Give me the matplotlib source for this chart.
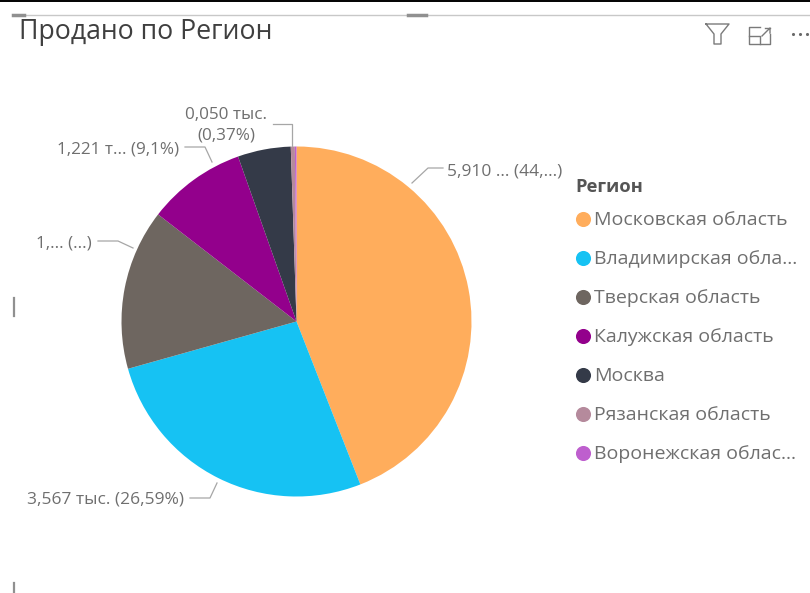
import matplotlib
matplotlib.use("Agg")
import matplotlib.pyplot as plt

regions = ["Московская область", "Владимирская обла...", "Тверская область", "Калужская область",
           "Москва", "Рязанская область", "Воронежская облас..."]
sold = [5.910, 3.567, 1.990, 1.221, 0.657, 0.050, 0.020]
colors = ["#FFAD5C", "#16C2F3", "#6E6660", "#93008C", "#343A48", "#B58A9C", "#BE5FCE"]
label_texts = ["5,910 ... (44,...)", "3,567 тыс. (26,59%)", "1,... (...)", "1,221 т... (9,1%)", "0,050 тыс.\n(0,37%)"]
W, H = 810, 593
TEXT = "#6F6F6F"
LINE = "#A6A6A6"
FONT = "Open Sans"


def Y(py):
    # pixel rows count from the top, the axes from the bottom
    return H - py


fig = plt.figure(figsize=(W / 100, H / 100), dpi=100)
ax = fig.add_axes([0, 0, 1, 1])
ax.set_xlim(0, W)
ax.set_ylim(0, H)
ax.axis("off")

# pie, clockwise from 12 o'clock
ax.pie(sold, colors=colors, startangle=90, counterclock=False, center=(296.5, Y(321.5)), radius=175,
       frame=False, wedgeprops=dict(linewidth=0))
ax.set_xlim(0, W)
ax.set_ylim(0, H)
ax.set_aspect("auto")

# data labels and their leader lines
leaders = [([412, 428, 443], [183, 168, 168]),
           ([217, 210, 190], [483, 498, 498]),
           ([133, 118, 98], [248, 241, 241]),
           ([212, 205, 185], [162, 147, 147]),
           ([292, 292, 273], [146, 124, 124])]
for xs, ys in leaders:
    ax.plot(xs, [Y(v) for v in ys], color=LINE, lw=0.9)
ax.text(447, Y(171), label_texts[0], fontsize=12.5, color=TEXT, family=FONT, va="center", ha="left")
ax.text(184, Y(499), label_texts[1], fontsize=12.5, color=TEXT, family=FONT, va="center", ha="right")
ax.text(92, Y(243), label_texts[2], fontsize=12.3, color=TEXT, family=FONT, va="center", ha="right")
ax.text(179, Y(150), label_texts[3], fontsize=12.3, color=TEXT, family=FONT, va="center", ha="right")
ax.text(226, Y(125.5), label_texts[4], fontsize=12.3, color=TEXT, family=FONT, va="center", ha="center",
        linespacing=1.4)

# title
ax.text(19, Y(32.5), "Продано по Регион", fontsize=19.2, color="#3F3F3F", family=FONT, va="center", ha="left")

# legend
ax.text(575, Y(187), "Регион", fontsize=13.2, color="#555555", family=FONT, weight="bold", va="center")
for i, (name, c) in enumerate(zip(regions, colors)):
    py = 219 + 39 * i
    ax.scatter([582.5], [Y(py)], s=118, color=c, linewidths=0)
    ax.text(594.5, Y(py + 1), name, fontsize=14, color=TEXT, family=FONT, va="center", ha="left")

# window frame
ax.plot([0, W], [Y(1), Y(1)], color="#000000", lw=1.4)
ax.plot([14, W], [Y(15), Y(15)], color="#C8C8C8", lw=1.0)
ax.plot([13, 24], [Y(15), Y(15)], color="#909090", lw=2.5)
ax.plot([408, 426], [Y(15), Y(15)], color="#909090", lw=2.5)
ax.plot([14, 14], [Y(298), Y(316)], color="#909090", lw=1.6)
ax.plot([14, 14], [Y(583), Y(593)], color="#909090", lw=1.6)

# header icons: filter, focus mode, more options
ax.plot([706, 729, 721, 721, 714, 714, 706], [Y(24), Y(24), Y(34), Y(44), Y(44), Y(34), Y(24)],
        color="#7A7A7A", lw=1.0)
ax.plot([760, 749, 749, 770, 770], [Y(27), Y(27), Y(44), Y(44), Y(34)], color="#7A7A7A", lw=1.0)
ax.plot([749, 760, 760], [Y(36), Y(36), Y(44)], color="#7A7A7A", lw=1.0)
ax.plot([762, 770, 770], [Y(36), Y(28), Y(33)], color="#7A7A7A", lw=1.0)
ax.plot([765, 770], [Y(28), Y(28)], color="#7A7A7A", lw=1.0)
ax.scatter([793, 800, 807], [Y(34)] * 3, s=5, color="#6A6A6A", linewidths=0)

fig.savefig("out.png", dpi=100, facecolor="white")
